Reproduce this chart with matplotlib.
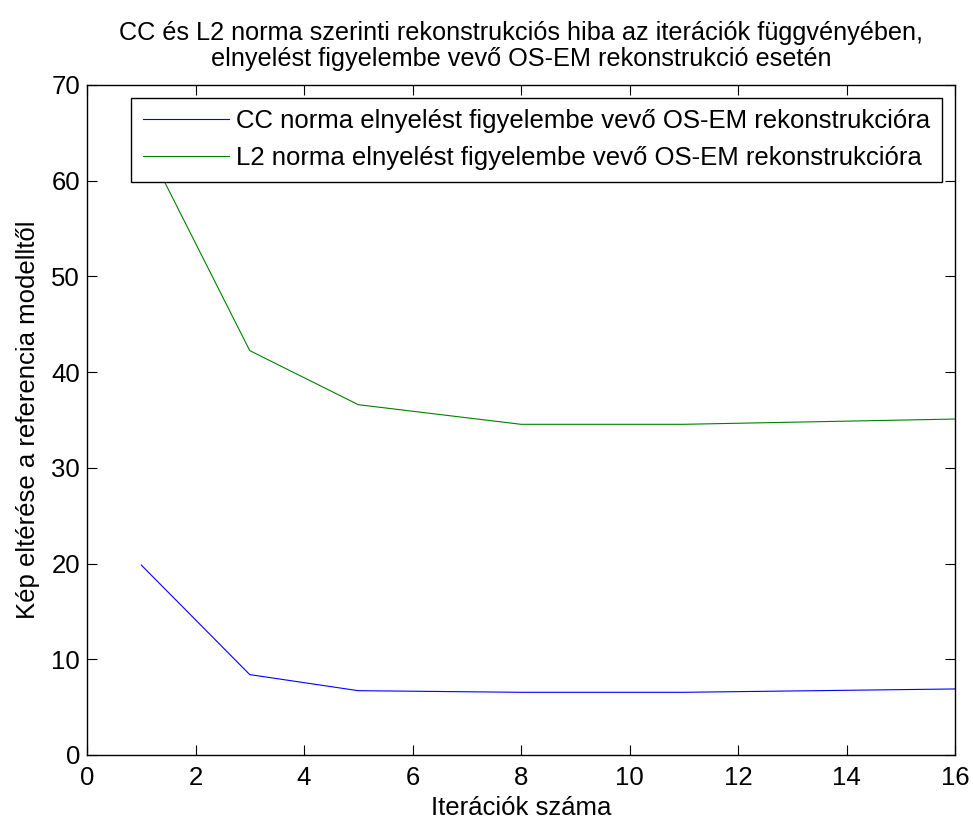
import matplotlib
matplotlib.use("Agg")
import matplotlib.pyplot as plt

# iteration counts and errors
iterations = [1, 3, 5, 8, 11, 16]
cc_error = [19.85, 8.4, 6.72, 6.55, 6.55, 6.9]
l2_error = [64.7, 42.25, 36.6, 34.55, 34.55, 35.1]

title_text = ("CC és L2 norma szerinti rekonstrukciós hiba az iterációk függvényében,\n"
              "elnyelést figyelembe vevő OS-EM rekonstrukció esetén")
cc_label = "CC norma elnyelést figyelembe vevő OS-EM rekonstrukcióra"
l2_label = "L2 norma elnyelést figyelembe vevő OS-EM rekonstrukcióra"

plt.rcParams['font.family'] = ['Liberation Sans', 'DejaVu Sans']
fs = 18.5

fig = plt.figure(figsize=(9.73, 8.25), dpi=100)
ax = fig.add_axes([87 / 973, 1 - 755 / 825, (955 - 87) / 973, (755 - 85) / 825])

ax.plot(iterations, cc_error, color=(0, 0, 1), linewidth=0.8, label=cc_label)
ax.plot(iterations, l2_error, color=(0, 0.5, 0), linewidth=0.8, label=l2_label)

ax.set_xlim(0, 16)
ax.set_ylim(0, 70)
ax.set_xticks(range(0, 17, 2))
ax.set_yticks(range(0, 71, 10))
ax.tick_params(direction='in', length=7, width=0.8, top=True, right=True,
               labelsize=fs)
ax.tick_params(axis='x', pad=8)
ax.tick_params(axis='y', pad=5)
for sp in ax.spines.values():
    sp.set_linewidth(1.0)
    sp.set_color('black')

ax.set_xlabel("Iterációk száma", fontsize=fs, labelpad=4)
ax.set_ylabel("Kép eltérése a referencia modelltől", fontsize=fs, labelpad=8)
ax.set_title(title_text, fontsize=18.2, linespacing=1.1, pad=14)

leg = ax.legend(loc='upper right', bbox_to_anchor=(0.985, 0.981), borderaxespad=0,
                fontsize=fs, fancybox=False, shadow=False, framealpha=1,
                edgecolor='black', handlelength=3.35, handletextpad=0.3,
                borderpad=0.45, labelspacing=0.5)
leg.get_frame().set_linewidth(1.0)

fig.savefig("out.png", dpi=100, facecolor='white')
